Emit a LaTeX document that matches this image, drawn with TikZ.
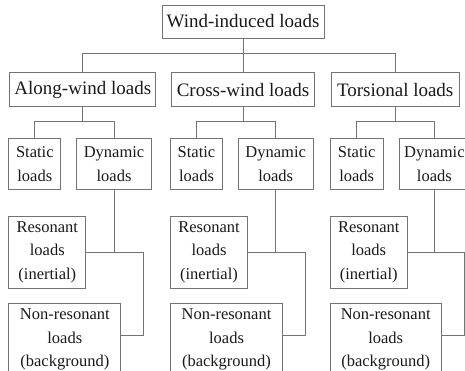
\documentclass[tikz,border=0pt]{standalone}
\usepackage{fontspec}
\setmainfont{Liberation Serif}
\usepackage{tikz}
\usetikzlibrary{positioning}

\definecolor{boxgray}{RGB}{115,115,115}
\tikzset{
	bigbox/.style={draw=boxgray, text=black!90, inner xsep=4pt, minimum height=34pt, font=\fontsize{19}{23}\selectfont},
	smallbox/.style={draw=boxgray, text=black!90, align=center, inner sep=2pt, font=\fontsize{16.5}{23.5}\selectfont},
	twoline/.style={smallbox, minimum height=51pt},
	threeline/.style={smallbox, minimum height=72pt}
}

\begin{document}
\begin{tikzpicture}[line width=0.7pt]
	\useasboundingbox (0,0) rectangle (465pt,-370pt);
	\node[bigbox, minimum width=162pt, minimum height=33pt] (wind) at (243pt,-21.5pt) {Wind-induced loads};
	\node[bigbox, minimum width=143pt, below = 34pt of wind] (cross) {Cross-wind loads};
	\node[bigbox, minimum width=146pt, left = 15pt of cross] (along) {Along-wind loads};
	\node[bigbox, minimum width=128pt, right = 16pt of cross] (tors) {Torsional loads};

	% along-wind
	\node[twoline, minimum width=52pt, below right = 31pt and -1pt of along.south west] (alongstat) {Static\\loads};
	\node[twoline, minimum width=75pt, right = 15pt of alongstat] (alongdyn) {Dynamic\\loads};
	\node[threeline, minimum width=77pt, below right = 26pt and 0pt of alongstat.south west] (alongres) {Resonant\\loads\\(inertial)};
	\node[threeline, minimum width=112pt, below right = 15pt and 0pt of alongres.south west] (alongnon) {Non-resonant\\loads\\(background)};

	% cross-wind
	\node[twoline, minimum width=52pt, below right = 31pt and -1pt of cross.south west] (crossstat) {Static\\loads};
	\node[twoline, minimum width=75pt, right = 15pt of crossstat] (crossdyn) {Dynamic\\loads};
	\node[threeline, minimum width=77pt, below right = 26pt and 0pt of crossstat.south west] (crossres) {Resonant\\loads\\(inertial)};
	\node[threeline, minimum width=112pt, below right = 15pt and 0pt of crossres.south west] (crossnon) {Non-resonant\\loads\\(background)};

	% torsional
	\node[twoline, minimum width=53pt, below right = 31pt and -1pt of tors.south west] (torsstat) {Static\\loads};
	\node[twoline, minimum width=71pt, right = 15pt of torsstat] (torsdyn) {Dynamic\\loads};
	\node[threeline, minimum width=77pt, below right = 26pt and 0pt of torsstat.south west] (torsres) {Resonant\\loads\\(inertial)};
	\node[threeline, minimum width=111pt, below right = 15pt and 0pt of torsres.south west] (torsnon) {Non-resonant\\loads\\(background)};

	\draw [boxgray] (wind) -- (cross);
	\draw [boxgray] (along.north) -- ++(0,19pt) -| (tors.north);

	\draw [boxgray] (along.south) -- ++(0,-14pt);
	\draw [boxgray] (alongstat.north) -- ++(0,17pt) -| (alongdyn.north);
	\draw [boxgray] (alongdyn.south) -- (alongdyn.south |- alongres.east);
	\draw [boxgray] (alongres.east) -- ++(57pt,0) |- ([yshift=4pt]alongnon.east);

	\draw [boxgray] (cross.south) -- ++(0,-14pt);
	\draw [boxgray] (crossstat.north) -- ++(0,17pt) -| (crossdyn.north);
	\draw [boxgray] (crossdyn.south) -- (crossdyn.south |- crossres.east);
	\draw [boxgray] (crossres.east) -- ++(57pt,0) |- ([yshift=4pt]crossnon.east);

	\draw [boxgray] (tors.south) -- ++(0,-14pt);
	\draw [boxgray] (torsstat.north) -- ++(0,17pt) -| (torsdyn.north);
	\draw [boxgray] (torsdyn.south) -- (torsdyn.south |- torsres.east);
	\draw [boxgray] (torsres.east) -- ++(57pt,0) |- ([yshift=4pt]torsnon.east);
\end{tikzpicture}
\end{document}
